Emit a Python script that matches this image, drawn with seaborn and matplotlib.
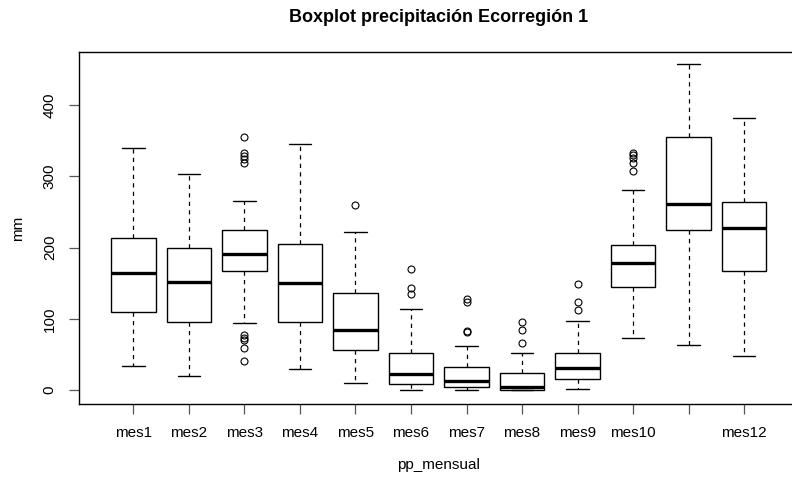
import numpy as np
import pandas as pd
import matplotlib
matplotlib.use("Agg")
import matplotlib.pyplot as plt
import seaborn as sns

# Summary values (mm)
months = ["mes1", "mes2", "mes3", "mes4", "mes5", "mes6",
          "mes7", "mes8", "mes9", "mes10", "mes11", "mes12"]
tick_labels = ["mes1", "mes2", "mes3", "mes4", "mes5", "mes6",
               "mes7", "mes8", "mes9", "mes10", "", "mes12"]
whisker_low = [33.7, 19.2, 93.6, 29.0, 9.4, 0.0, 0.0, 0.0, 1.4, 73.0, 62.7, 48.2]
q1 = [110.0, 95.9, 167.0, 95.0, 56.1, 8.0, 3.7, 0.5, 15.4, 144.1, 224.0, 167.5]
median = [164.7, 151.0, 190.4, 150.2, 84.2, 22.0, 13.1, 4.7, 31.4, 177.8, 261.5, 227.8]
q3 = [213.0, 199.7, 224.0, 204.4, 135.7, 51.9, 32.7, 23.4, 51.5, 203.5, 355.0, 264.3]
whisker_high = [339.0, 303.6, 265.7, 344.8, 221.3, 113.7, 62.2, 51.9, 96.4, 280.7, 457.5, 382.2]
outliers_low = [[], [], [77.2, 72.5, 70.2, 59.4, 40.2], [], [], [], [], [], [], [], [], []]
outliers_high = [[], [], [354.6, 332.0, 328.4, 323.7, 318.0], [], [259.2],
                 [169.8, 143.6, 134.7], [127.3, 124.0, 83.3, 81.0], [95.0, 84.2, 66.0],
                 [148.3, 124.0, 112.7], [332.0, 329.8, 325.2, 318.0, 307.8], [], []]


def sample_from_stats(lo, a, m, b, hi, out_lo, out_hi):
    """Sorted sample whose quartiles/whiskers equal the given summary values."""
    k = max(len(out_lo), len(out_hi)) + 2
    n = 4 * k + 1
    vals = [None] * n
    for i, v in enumerate(sorted(out_lo)):
        vals[i] = v
    vals[len(out_lo)] = lo
    for i in range(len(out_lo) + 1, k + 1):
        vals[i] = a
    for i in range(k + 1, 2 * k + 1):
        vals[i] = m
    top_start = n - len(out_hi)
    for i in range(2 * k + 1, top_start - 1):
        vals[i] = b
    vals[top_start - 1] = hi
    for i, v in enumerate(sorted(out_hi)):
        vals[top_start + i] = v
    return vals


rows = []
for i, mo in enumerate(months):
    for v in sample_from_stats(whisker_low[i], q1[i], median[i], q3[i], whisker_high[i],
                               outliers_low[i], outliers_high[i]):
        rows.append((mo, v))
df = pd.DataFrame(rows, columns=["pp_mensual", "mm"])

sns.set_style("white")
plt.rcParams["font.family"] = ["Liberation Sans", "DejaVu Sans"]
plt.rcParams["text.color"] = "black"
plt.rcParams["axes.labelcolor"] = "black"
plt.rcParams["xtick.color"] = "black"
plt.rcParams["ytick.color"] = "black"

fig = plt.figure(figsize=(7.92, 4.8), dpi=100)
ax = fig.add_axes([79 / 792, 1 - 404 / 480, (798.5 - 79) / 792, (404 - 52) / 480])

sns.boxplot(data=df, x="pp_mensual", y="mm", order=months, ax=ax,
            color="white", linecolor="black", linewidth=1.0, width=0.8, whis=1.5,
            flierprops=dict(marker="o", markerfacecolor="none", markeredgecolor="black",
                            markersize=5, markeredgewidth=0.8),
            medianprops=dict(color="black", linewidth=2.4),
            whiskerprops=dict(color="black", linestyle=(0, (3.4, 3.4)), linewidth=0.9),
            capprops=dict(color="black", linestyle="-", linewidth=1.0),
            boxprops=dict(edgecolor="black", facecolor="white", linewidth=1.0))

ax.set_xlim(-0.98, 11.98)
ax.set_ylim(-19.6, 474.4)
ax.set_yticks([0, 100, 200, 300, 400])
ax.set_xticks(range(12))
ax.set_xticklabels(tick_labels)

for s in ax.spines.values():
    s.set_visible(True)
    s.set_color("black")
    s.set_linewidth(1.0)

ax.tick_params(axis="both", which="both", length=7, width=0.9, color="#555555",
               labelsize=11, labelcolor="black", direction="out", bottom=True, left=True)
ax.tick_params(axis="x", pad=9)
ax.tick_params(axis="y", pad=9)
for lab in ax.get_yticklabels():
    lab.set_rotation(90)
    lab.set_va("center")

ax.set_xlabel("pp_mensual", fontsize=11, labelpad=13, color="black")
ax.set_ylabel("mm", fontsize=11, labelpad=13, color="black")
fig.text((79 + 798.5) / 2 / 792, 1 - 17 / 480, "Boxplot precipitación Ecorregión 1",
         ha="center", va="center", fontsize=13, fontweight="bold", color="black")

fig.savefig("out.png", dpi=100)
